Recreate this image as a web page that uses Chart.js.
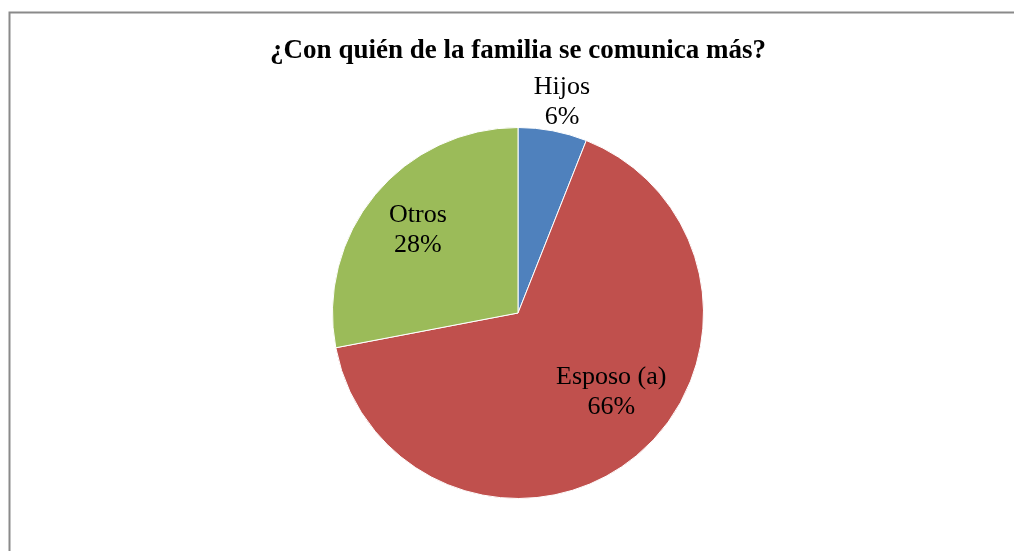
<!DOCTYPE html>
<html>
<head>
<meta charset="utf-8">
<script src="https://cdn.jsdelivr.net/npm/chart.js@4"></script>
<style>
html,body{margin:0;padding:0;background:#fff;}
#wrap{width:1014px;height:551px;position:relative;}
</style>
</head>
<body>
<div id="wrap"><canvas id="c"></canvas></div>
<script>
const title = "¿Con quién de la familia se comunica más?";
const categories = ["Hijos", "Esposo (a)", "Otros"];
const values = [6, 66, 28];
const colors = ["#4F81BD", "#C0504D", "#9BBB59"];

// label placement: radius factor and angle offset (degrees) per slice
const labelRadius = [1.16, 0.66, 0.70];
const labelAngleOffset = [1, -10, 0];

const framePlugin = {
  id: 'frame',
  beforeDraw(chart) {
    const ctx = chart.ctx;
    ctx.save();
    ctx.strokeStyle = '#8a8a8a';
    ctx.lineWidth = 2;
    ctx.beginPath();
    ctx.moveTo(9.5, 600);
    ctx.lineTo(9.5, 12.5);
    ctx.lineTo(1020, 12.5);
    ctx.stroke();
    ctx.restore();
  }
};

const labelPlugin = {
  id: 'sliceLabels',
  afterDatasetsDraw(chart) {
    const ctx = chart.ctx;
    const meta = chart.getDatasetMeta(0);
    const total = values.reduce((a, b) => a + b, 0);
    ctx.save();
    ctx.font = '26px "Liberation Serif", "Times New Roman", serif';
    ctx.fillStyle = '#000';
    ctx.textAlign = 'center';
    ctx.textBaseline = 'middle';
    meta.data.forEach((arc, i) => {
      const p = arc.getProps(['x', 'y', 'startAngle', 'endAngle', 'outerRadius'], true);
      const mid = (p.startAngle + p.endAngle) / 2 + labelAngleOffset[i] * Math.PI / 180;
      const r = p.outerRadius * labelRadius[i];
      const cx = p.x + Math.cos(mid) * r;
      const cy = p.y + Math.sin(mid) * r;
      const pct = Math.round(values[i] / total * 100) + '%';
      ctx.fillText(categories[i], cx, cy - 15);
      ctx.fillText(pct, cx, cy + 15);
    });
    ctx.restore();
  }
};

new Chart(document.getElementById('c'), {
  type: 'pie',
  data: {
    labels: categories,
    datasets: [{
      data: values,
      backgroundColor: colors,
      borderColor: '#ffffff',
      borderWidth: 1
    }]
  },
  options: {
    responsive: true,
    maintainAspectRatio: false,
    animation: false,
    layout: { padding: { top: 0, bottom: 52, left: 22, right: 0 } },
    plugins: {
      legend: { display: false },
      tooltip: { enabled: false },
      title: {
        display: true,
        text: title,
        color: '#000',
        font: { family: '"Liberation Serif", "Times New Roman", serif', size: 27, weight: 'bold', lineHeight: 1.2 },
        padding: { top: 35, bottom: 59.6 }
      }
    }
  },
  plugins: [framePlugin, labelPlugin]
});
</script>
</body>
</html>
